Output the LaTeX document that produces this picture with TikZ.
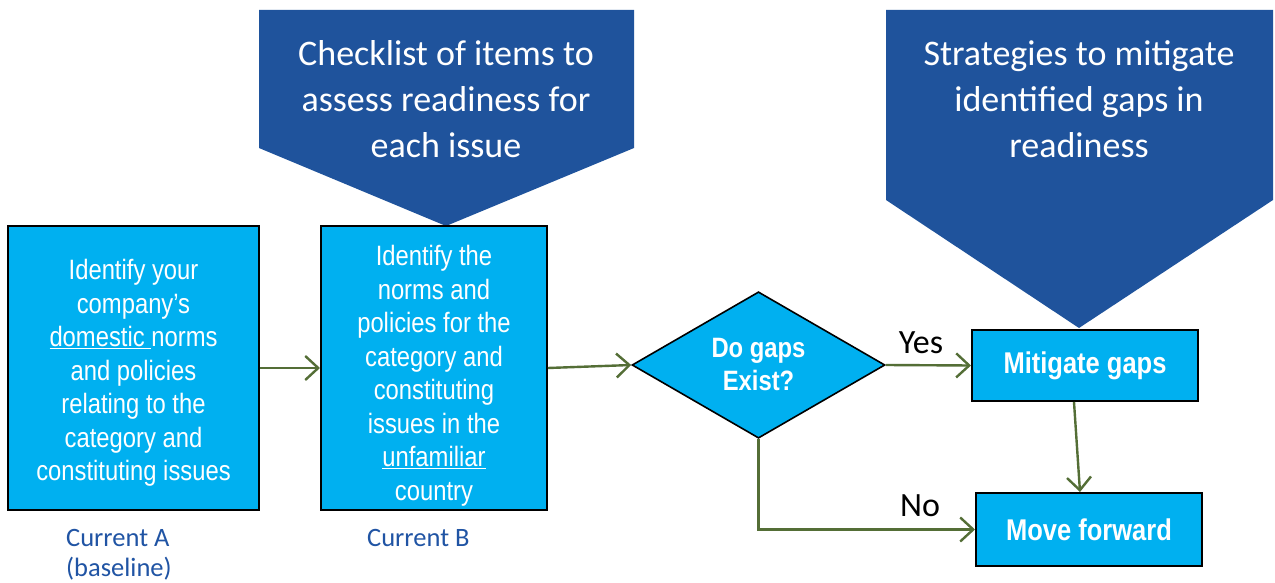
\documentclass[tikz,border=0pt]{standalone}
\usepackage{fontspec}
\setmainfont{Carlito}
\newfontfamily\narrowfont{Liberation Sans}[FakeStretch=0.85]
\usetikzlibrary{arrows.meta,positioning,shapes.geometric}
\definecolor{gpcyan}{RGB}{0,176,240}
\definecolor{gpnavy}{RGB}{31,83,156}
\definecolor{gpgreen}{RGB}{84,110,54}
\definecolor{gplabel}{RGB}{32,84,164}

\begin{document}
\begin{tikzpicture}[
  x=1pt, y=-1pt,
  stepbox/.style={draw=black, line width=2pt, fill=gpcyan, text=white, align=center,
                  font=\narrowfont\fontsize{28}{33.5}\selectfont, inner sep=0pt},
  decide/.style={diamond, draw=black, line width=1.6pt, fill=gpcyan, text=white, align=center,
                 font=\narrowfont\bfseries\fontsize{28}{33}\selectfont, inner sep=0pt},
  callout/.style={fill=gpnavy},
  calltext/.style={text=white, align=center, font=\fontsize{36}{46}\selectfont},
  flow/.style={-{Straight Barb[length=13pt,width=24pt,line width=2.4pt]}, line width=2.4pt, gpgreen},
  answer/.style={font=\fontsize{34}{40}\selectfont, text=black},
  lab/.style={font=\fontsize{26.5}{30}\selectfont, text=gplabel, align=left, inner sep=0pt}
]
\useasboundingbox[fill=white] (0,0) rectangle (1275,583);

% callouts pointing down onto the flow
\fill[callout] (259,10) -- (634,10) -- (634,148) -- (446,226) -- (259,148) -- cycle;
\node[calltext] (check) at (446,99) {Checklist of items to\\assess readiness for\\each issue};
\fill[callout] (886,10) -- (1273,10) -- (1273,200) -- (1079,328) -- (886,200) -- cycle;
\node[calltext] (strat) at (1079,99) {Strategies to mitigate\\identified gaps in\\readiness};

% main flow
\node[stepbox, minimum width=251, minimum height=284] (curA) at (133.5,368)
  {\rule{0pt}{30pt}Identify your\\company’s\\\underline{domestic }norms\\and policies\\relating to the\\category and\\constituting issues};
\node[stepbox, minimum width=226, minimum height=284] (curB) at (434,368)
  {\rule{0pt}{36pt}Identify the\\norms and\\policies for the\\category and\\constituting\\issues in the\\\underline{unfamiliar}\\country};
\node[decide, minimum width=253, minimum height=142] (gaps) at (758.5,365) {Do gaps\\Exist?};
\node[stepbox, font=\narrowfont\bfseries\fontsize{30}{34}\selectfont,
      minimum width=226, minimum height=71] (mitig) at (1085,365.5) {Mitigate gaps};
\node[stepbox, font=\narrowfont\bfseries\fontsize{30}{34}\selectfont,
      minimum width=226, minimum height=73] (fwd) at (1089,529.5) {Move forward};

\draw[flow] (curA) -- (curB);
\draw[flow] (curB.east) -- (gaps.west);
\draw[flow] (gaps.east) -- (mitig.west);
\draw[flow] ([xshift=-11]mitig.south) -- ([xshift=-9]fwd.north);
\draw[flow] (gaps.south) |- (fwd.west);

\node[answer] (yes) at (921,343) {Yes};
\node[answer] (no) at (920,506) {No};

% captions under the first two steps
\node[lab, anchor=north west] (capA) at (66,529) {Current A\\(baseline)};
\node[lab, anchor=north west] (capB) at (367,529) {Current B};
\end{tikzpicture}
\end{document}
